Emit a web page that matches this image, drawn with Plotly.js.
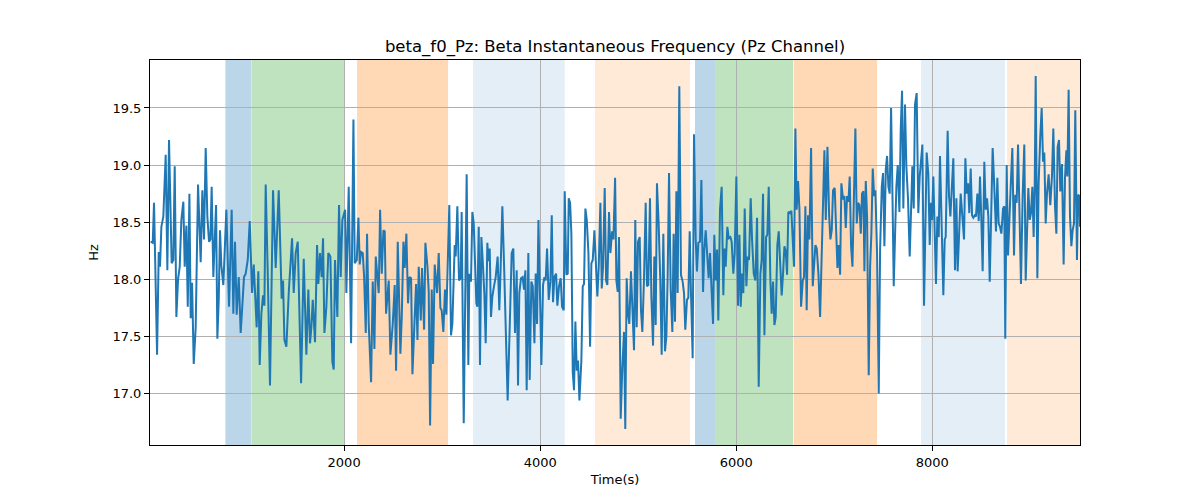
<!DOCTYPE html>
<html>
<head>
<meta charset="utf-8">
<script src="https://cdn.plot.ly/plotly-3.0.1.min.js"></script>
<style>html,body{margin:0;padding:0;background:#fff;}#chart{width:1200px;height:500px;}</style>
</head>
<body>
<div id="chart"></div>
<script>
// Time (s) of each sample
var times = [
27,48,61,92,109,122,136,156,180,197,214,241,258,272,289,306,323,340,360,374,391,405,422,435,449,466,486,510,537,554,571,588,605,622,636,649,666,694,707,721,734,748,768,799,826,853,870,887,904,925,945,
979,996,1017,1037,1061,1078,1091,1108,1125,1139,1156,1173,1187,1200,1221,1244,1275,1302,1333,1363,1377,1391,1411,1435,1469,1486,1506,1527,1561,1588,1615,1635,1652,1666,1680,1703,1724,1737,1754,1771,1785,1799,1819,1839,1860,1880,1894,1907,1931,1948,1965,1982,
2010,2023,2047,2071,2095,2108,2129,2146,2159,2173,2190,2204,2221,2234,2251,2275,2292,2309,2323,2336,2353,2367,2384,2401,2414,2428,2455,2472,2496,2516,2530,2547,2561,2574,2588,2605,2618,2635,2652,2666,2683,2697,2717,2734,2748,2761,2782,2795,2816,2829,2850,2863,2877,2894,2907,2924,
2948,2965,2982,2995,3012,3029,3043,3060,3073,3090,3104,3128,3138,3155,3172,3189,3199,3220,3237,3250,3267,3277,3294,3308,3322,3335,3349,3359,3373,3386,3400,3413,3430,3444,3461,3471,3485,3498,3512,3529,3546,3566,3583,3597,3614,3631,3648,3668,3689,3709,3726,3743,3760,3774,3787,3804,3821,3835,3849,3862,3879,
3893,3910,3924,3941,3954,3968,3982,3999,4012,4029,4043,4056,4070,4087,4104,4118,4131,4145,4162,4175,4192,4209,4223,4240,4250,4267,4281,4291,4305,4318,4332,4345,4359,4373,4386,4400,4420,4434,4447,4461,4475,4492,4509,4522,4536,4553,4570,4583,4597,4614,4628,4641,4658,4672,4685,4702,4716,4733,4747,4764,4777,4791,4804,4821,
4838,4855,4868,4882,4896,4909,4926,4940,4957,4970,4984,4998,5015,5028,5042,5059,5076,5089,5103,5120,5134,5151,5164,5178,5191,5208,5225,5239,5256,5273,5287,5300,5314,5331,5348,5361,5375,5389,5402,5419,5436,5453,5467,5480,5497,5511,5525,5538,5555,5569,5586,5599,5613,5630,5644,5661,5674,5688,5705,5718,5732,5746,5763,5776,
5790,5804,5817,5834,5851,5868,5879,5892,5909,5923,5940,5953,5970,5984,6001,6018,6032,6045,6059,6072,6086,6103,6117,6130,6147,6161,6178,6195,6212,6229,6246,6259,6273,6287,6304,6317,6331,6348,6361,6375,6389,6402,6419,6433,6446,6463,6477,6491,6504,6518,6531,6548,6562,6576,6589,6603,6616,6630,6644,6661,6678,6691,6705,6718,
6732,6746,6763,6780,6794,6807,6821,6838,6855,6868,6885,6899,6913,6930,6947,6960,6974,6987,7004,7018,7032,7045,7059,7072,7089,7103,7117,7130,7144,7157,7171,7185,7198,7215,7229,7242,7256,7270,7283,7297,7307,7321,7334,7351,7365,7378,7392,7406,7419,7436,7453,7467,7484,7497,7511,7525,7538,7552,7565,7579,7593,7606,7620,7633,7647,7664,7678,
7691,7704,7721,7735,7752,7769,7782,7796,7810,7823,7840,7857,7871,7884,7898,7915,7929,7942,7959,7973,7986,7997,8010,8024,8037,8051,8065,8078,8092,8105,8112,8126,8136,8156,8170,8184,8201,8214,8231,8245,8258,8275,8289,8306,8323,8337,8350,8364,8377,8391,8405,8418,8432,8445,8459,8473,8486,8500,8513,8530,8544,8558,8571,8585,8598,8615,8626,
8649,8663,8676,8690,8704,8721,8734,8744,8758,8772,8785,8799,8816,8833,8846,8860,8874,8891,8904,8921,8938,8952,8965,8979,8993,9006,9020,9033,9044,9054,9071,9084,9101,9115,9129,9142,9156,9169,9186,9203,9220,9234,9251,9265,9278,9292,9305,9322,9339,9353,9367,9377,9390,9404,9418,9431,9445,9458,9475,9486,9499,9506
];
// Beta instantaneous frequency (Hz)
var freqHz = [
18.33,18.32,18.67,17.34,18.24,18.11,18.46,18.55,19.09,18.08,19.22,18.14,18.17,18.99,17.67,18.00,18.11,18.52,18.68,18.11,18.47,17.76,18.75,17.66,17.97,17.26,17.58,18.83,18.15,18.78,18.35,19.15,18.55,18.33,18.35,18.81,18.02,18.65,17.48,17.82,18.43,18.12,17.95,18.61,17.76,18.61,17.70,18.33,17.69,18.02,17.53,
18.02,18.05,18.17,18.51,17.88,18.13,17.88,17.58,18.07,17.25,17.70,17.86,17.77,18.83,18.05,17.07,18.78,18.10,18.78,17.83,17.99,17.47,17.41,17.88,18.36,17.88,18.23,18.33,17.09,18.18,17.34,17.91,17.44,17.58,17.82,17.45,18.30,17.96,18.23,18.02,18.36,17.53,17.76,18.23,18.20,17.28,17.21,18.17,17.67,18.65,18.02,18.52,
18.61,17.88,18.81,17.44,19.40,18.14,18.17,18.54,18.13,18.24,18.23,18.02,17.53,18.40,17.61,17.10,17.98,17.39,18.20,18.02,17.88,18.61,18.05,18.43,18.42,17.70,17.99,17.34,17.61,17.95,17.20,18.33,17.66,17.35,17.67,18.33,18.10,18.40,17.79,18.02,18.01,17.17,17.61,17.96,17.47,18.11,17.64,18.10,17.56,18.32,18.11,17.89,16.72,17.91,17.26,18.13,
17.88,18.23,17.75,17.73,17.54,17.91,17.69,18.29,18.65,17.51,17.61,18.30,18.20,18.64,17.99,18.01,18.59,16.74,18.08,18.92,17.25,18.05,17.98,18.59,18.49,18.11,17.79,17.76,18.46,17.25,18.37,18.17,17.88,17.44,18.32,18.16,18.27,17.67,17.85,17.94,18.02,18.20,17.73,18.11,18.64,18.14,17.56,16.94,17.58,18.23,18.27,17.53,18.08,17.07,17.88,18.01,18.02,17.91,18.08,17.03,18.23,
17.12,17.98,17.94,17.44,18.05,17.61,18.52,17.82,17.25,17.95,18.02,17.99,18.27,17.82,17.98,18.56,17.80,18.02,18.05,17.77,17.94,18.01,17.76,17.73,18.77,18.04,18.05,18.71,18.67,18.40,17.19,17.03,17.63,17.20,17.29,16.94,17.29,17.94,17.96,18.62,18.52,18.23,17.41,18.14,18.17,18.43,17.99,17.85,18.11,18.67,17.92,18.11,18.80,17.99,17.95,18.59,18.23,18.42,18.35,18.89,17.99,17.89,18.37,16.78,
17.23,17.54,16.69,18.01,17.70,17.61,18.07,17.70,17.38,18.52,17.58,18.33,18.37,17.73,17.54,18.01,18.67,17.94,17.95,18.71,17.85,17.42,18.20,17.60,18.84,18.49,17.99,17.34,18.40,17.37,17.50,18.02,18.93,17.91,17.54,18.40,17.63,18.77,17.88,19.69,18.04,17.98,17.88,17.56,17.82,17.84,18.42,17.88,17.31,19.27,18.35,18.07,18.32,18.33,18.87,17.89,18.26,18.43,18.20,18.01,18.23,17.99,17.61,18.39,
17.99,18.26,17.64,18.61,18.81,17.86,18.27,18.11,18.46,18.36,18.37,18.33,18.05,18.23,18.90,17.77,18.39,17.76,18.05,17.88,18.62,17.94,18.20,18.17,18.71,18.35,18.05,17.99,18.54,17.06,18.05,18.17,18.75,17.51,18.37,18.39,18.81,17.99,17.70,17.98,17.60,17.67,18.30,18.42,18.17,17.86,18.05,18.29,18.25,18.04,18.59,18.58,18.60,18.33,18.11,19.32,18.61,18.86,18.62,17.76,17.99,18.02,18.64,17.73,
18.56,18.35,19.15,17.94,18.18,18.30,18.27,18.05,17.67,18.11,18.48,19.13,18.52,19.16,18.56,18.35,18.43,18.78,18.80,18.52,18.10,18.30,18.04,18.84,18.70,18.73,18.45,18.73,18.68,18.90,18.29,18.11,18.75,19.32,18.49,18.67,18.65,18.40,18.75,18.77,18.07,18.86,18.55,17.16,18.11,18.40,18.97,18.73,18.78,18.23,17.00,18.26,18.81,18.93,18.29,18.96,19.08,18.81,18.75,19.50,18.75,17.94,18.40,18.81,19.00,18.59,19.33,
19.65,18.62,19.53,18.99,18.70,18.20,18.55,18.99,18.62,19.53,19.63,18.58,18.90,19.08,19.18,17.77,18.71,19.11,18.92,18.30,18.67,18.52,18.90,18.46,17.96,18.55,18.37,19.08,18.52,18.29,17.86,18.35,18.37,19.30,18.73,18.55,18.93,19.06,18.08,18.71,18.07,18.49,18.75,18.55,18.35,19.06,18.75,18.84,18.58,18.97,18.56,18.54,18.56,18.55,18.75,18.51,18.90,18.52,18.07,19.03,18.61,18.71,18.55,17.98,18.51,19.15,18.93,
18.42,18.89,18.49,18.46,18.40,18.62,18.64,17.48,19.00,18.21,18.55,18.81,19.15,18.21,18.74,18.67,19.18,18.29,17.96,18.73,19.18,17.99,18.33,18.80,18.52,18.58,18.81,18.37,18.81,19.78,18.01,18.84,19.25,19.50,19.03,19.11,18.49,18.75,18.92,18.65,18.90,19.32,18.64,18.40,19.16,19.22,18.77,19.01,18.13,18.89,19.13,18.90,19.66,18.55,18.29,18.43,18.49,19.48,18.17,18.74,18.73,18.46
];
// Shaded intervals (s)
var spanStart = [789, 1060, 2132, 3315, 4559, 5579, 5786, 6586, 7885, 8762];
var spanEnd   = [1056, 2003, 3060, 4250, 5528, 5786, 6579, 7436, 8741, 9600];
var spanKind  = ['blueDark','green','orangeDark','blueLight','orangeLight','blueDark','green','orangeDark','blueLight','orangeLight'];
var yTicks = [17.0, 17.5, 18.0, 18.5, 19.0, 19.5];
var xTicks = [2000, 4000, 6000, 8000];

var kindColor = {
  blueDark: 'rgba(31,119,180,0.30)',
  green: 'rgba(44,160,44,0.30)',
  orangeDark: 'rgba(255,127,14,0.30)',
  blueLight: 'rgba(31,119,180,0.12)',
  orangeLight: 'rgba(255,127,14,0.16)'
};

var shapes = spanStart.map(function(s, i) {
  return {
    type: 'rect', xref: 'x', yref: 'paper', x0: s, x1: spanEnd[i], y0: 0, y1: 1,
    fillcolor: kindColor[spanKind[i]], line: {width: 0}, layer: 'below'
  };
});

var trace = {
  x: times, y: freqHz, type: 'scatter', mode: 'lines',
  line: {color: '#1f77b4', width: 2}, hoverinfo: 'x+y'
};

var font = 'DejaVu Sans, sans-serif';
var layout = {
  width: 1200, height: 500,
  margin: {l: 150, r: 120, t: 60, b: 55},
  paper_bgcolor: '#ffffff', plot_bgcolor: '#ffffff',
  font: {family: font, size: 13, color: '#000'},
  showlegend: false,
  title: {
    text: 'beta_f0_Pz: Beta Instantaneous Frequency (Pz Channel)',
    font: {family: font, size: 16.5, color: '#000'},
    x: 0.5125, xanchor: 'center', y: 0.908, yanchor: 'middle', yref: 'container'
  },
  xaxis: {
    range: [20, 9506], tickvals: xTicks, ticktext: xTicks.map(String),
    showgrid: true, gridcolor: '#b0b0b0', gridwidth: 1,
    zeroline: false, showline: true, linecolor: '#000', linewidth: 1, mirror: true,
    ticks: 'outside', ticklen: 5, tickcolor: '#000', tickwidth: 1,
    tickfont: {family: font, size: 13, color: '#000'},
    title: {text: 'Time(s)', font: {family: font, size: 13, color: '#000'}, standoff: 6}
  },
  yaxis: {
    range: [16.55, 19.92], tickvals: yTicks, ticktext: yTicks.map(function(v){return v.toFixed(1);}),
    showgrid: true, gridcolor: '#b0b0b0', gridwidth: 1,
    zeroline: false, showline: true, linecolor: '#000', linewidth: 1, mirror: true,
    ticks: 'outside', ticklen: 5, tickcolor: '#000', tickwidth: 1,
    tickfont: {family: font, size: 13, color: '#000'},
    title: {text: 'Hz', font: {family: font, size: 13, color: '#000'}, standoff: 10}
  },
  shapes: shapes
};

Plotly.newPlot('chart', [trace], layout, {displayModeBar: false, staticPlot: true});
</script>
</body>
</html>
